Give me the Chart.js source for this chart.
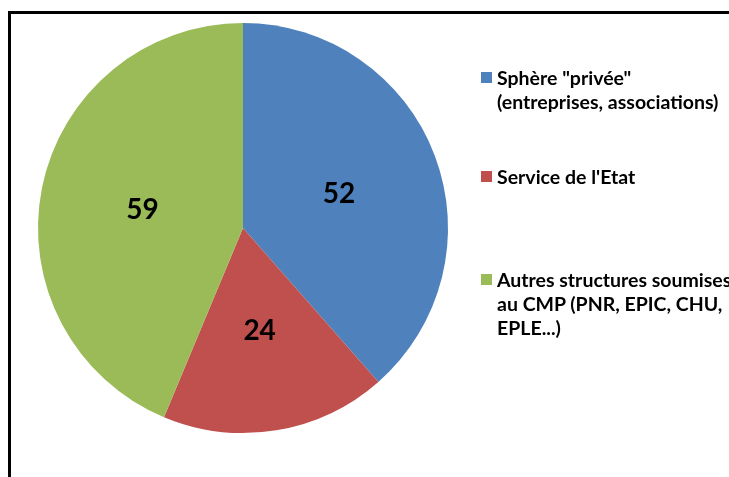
<!DOCTYPE html>
<html lang="fr">
<head>
    <meta charset="UTF-8">
    <title>Répartition</title>
    <script src="https://cdn.jsdelivr.net/npm/chart.js"></script>
    <style>
        body {
            margin: 0;
            padding: 0;
            background-color: #fff;
            width: 729px;
            height: 477px;
            overflow: hidden;
            position: relative;
        }
        .frame {
            position: absolute;
            left: 8px;
            top: 11px;
            width: 800px;
            height: 600px;
            border-left: 3px solid #000;
            border-top: 3px solid #000;
        }
        #pieChart {
            position: absolute;
            left: 0;
            top: 0;
        }
        .legend-item {
            position: absolute;
            left: 481px;
            font-family: Lato, sans-serif;
            font-weight: bold;
            font-size: 19.5px;
            line-height: 24px;
            color: #000;
            padding-left: 16px;
            white-space: nowrap;
        }
        .legend-item .box {
            position: absolute;
            left: 0;
            top: 6px;
            width: 11px;
            height: 11px;
        }
    </style>
</head>
<body>
    <div class="frame"></div>
    <canvas id="pieChart" width="729" height="477"></canvas>
    <div id="legend"></div>

    <script>
        const categories = [
            ['Sphère "privée"', '(entreprises, associations)'],
            ["Service de l'Etat"],
            ['Autres structures soumises', 'au CMP (PNR, EPIC, CHU,', 'EPLE...)']
        ];
        const values = [52, 24, 59];
        const colors = ['#4F81BD', '#C0504D', '#9BBB59'];
        const legendTops = [66, 165, 268];

        // value labels inside the slices
        const sliceLabels = {
            id: 'sliceLabels',
            afterDatasetsDraw(chart) {
                const ctx = chart.ctx;
                const meta = chart.getDatasetMeta(0);
                ctx.save();
                ctx.font = 'bold 28px Lato, sans-serif';
                ctx.fillStyle = '#000';
                ctx.textAlign = 'center';
                ctx.textBaseline = 'alphabetic';
                meta.data.forEach((arc, i) => {
                    const p = arc.getCenterPoint();
                    ctx.fillText(chart.data.datasets[0].data[i], p.x, p.y + 11);
                });
                ctx.restore();
            }
        };

        new Chart(document.getElementById('pieChart').getContext('2d'), {
            type: 'pie',
            data: {
                labels: categories.map(c => c.join(' ')),
                datasets: [{
                    data: values,
                    backgroundColor: colors,
                    borderWidth: 0
                }]
            },
            options: {
                responsive: false,
                animation: false,
                layout: {
                    padding: { left: 38, top: 23, right: 281, bottom: 44 }
                },
                plugins: {
                    legend: { display: false },
                    tooltip: { enabled: false }
                }
            },
            plugins: [sliceLabels]
        });

        // legend on the right
        const legend = document.getElementById('legend');
        categories.forEach((lines, i) => {
            const item = document.createElement('div');
            item.className = 'legend-item';
            item.style.top = legendTops[i] + 'px';
            item.innerHTML = '<span class="box" style="background:' + colors[i] + '"></span>' +
                lines.join('<br>');
            legend.appendChild(item);
        });
    </script>
</body>
</html>
